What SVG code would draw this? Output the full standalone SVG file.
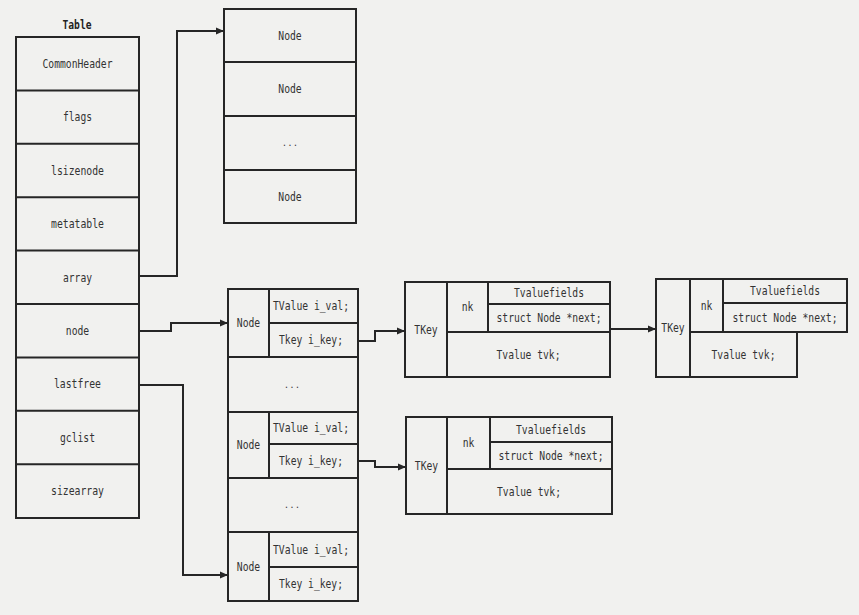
<svg xmlns="http://www.w3.org/2000/svg" width="859" height="615" viewBox="0 0 859 615">
<style>
.b{fill:none;stroke:#262626;stroke-width:2}
.t{font-family:"DejaVu Sans Mono","Liberation Mono",monospace;font-size:11.5px;fill:#333;text-anchor:middle;dominant-baseline:central}
.d{font-family:"DejaVu Sans Mono","Liberation Mono",monospace;font-size:9px;fill:#444;text-anchor:middle;dominant-baseline:central}
.c{fill:none;stroke:#262626;stroke-width:2}
</style>
<defs>
<marker id="ah" markerWidth="8" markerHeight="8" refX="7" refY="4" orient="auto" markerUnits="userSpaceOnUse">
<path d="M0,0.5 L8,4 L0,7.5 Z" fill="#262626"/>
</marker>
</defs>
<rect width="859" height="615" fill="#f1f1ef"/>

<g id="table">
<text x="77" y="25" class="t" style="font-weight:bold;fill:#222" textLength="29" lengthAdjust="spacingAndGlyphs">Table</text>
<rect x="16" y="37" width="123" height="481" class="b"/>
<path class="b" d="M16,90.4H139M16,143.8H139M16,197.2H139M16,250.6H139M16,304H139M16,357.4H139M16,410.8H139M16,464.2H139"/>
<text x="77.5" y="64" class="t" textLength="70" lengthAdjust="spacingAndGlyphs">CommonHeader</text>
<text x="77.5" y="117" class="t" textLength="29" lengthAdjust="spacingAndGlyphs">flags</text>
<text x="77.5" y="170.5" class="t" textLength="53" lengthAdjust="spacingAndGlyphs">lsizenode</text>
<text x="77.5" y="224" class="t" textLength="53" lengthAdjust="spacingAndGlyphs">metatable</text>
<text x="77.5" y="277.5" class="t" textLength="29" lengthAdjust="spacingAndGlyphs">array</text>
<text x="77.5" y="331" class="t" textLength="23.4" lengthAdjust="spacingAndGlyphs">node</text>
<text x="77.5" y="384" class="t" textLength="47" lengthAdjust="spacingAndGlyphs">lastfree</text>
<text x="77.5" y="437.5" class="t" textLength="35" lengthAdjust="spacingAndGlyphs">gclist</text>
<text x="77.5" y="491" class="t" textLength="53" lengthAdjust="spacingAndGlyphs">sizearray</text>
</g>

<g id="array-nodes">
<rect x="224" y="9" width="132" height="214" class="b"/>
<path class="b" d="M224,62H356M224,116H356M224,170H356"/>
<text x="290" y="36" class="t" textLength="23.4" lengthAdjust="spacingAndGlyphs">Node</text>
<text x="290" y="89" class="t" textLength="23.4" lengthAdjust="spacingAndGlyphs">Node</text>
<text x="290" y="143" class="d">...</text>
<text x="290" y="196.5" class="t" textLength="23.4" lengthAdjust="spacingAndGlyphs">Node</text>
</g>

<g id="hash-nodes">
<rect x="228" y="289" width="130" height="312" class="b"/>
<path class="b" d="M228,357H358M228,412H358M228,478H358M228,532H358"/>
<path class="b" d="M269,289V357M269,323H358M269,412V478M269,444H358M269,532V601M269,567H358"/>
<text x="248.5" y="323" class="t" textLength="23.4" lengthAdjust="spacingAndGlyphs">Node</text>
<text x="311" y="306" class="t" textLength="76" lengthAdjust="spacingAndGlyphs">TValue i_val;</text>
<text x="311" y="340" class="t" textLength="64" lengthAdjust="spacingAndGlyphs">Tkey i_key;</text>
<text x="292" y="384.5" class="d">...</text>
<text x="248.5" y="445" class="t" textLength="23.4" lengthAdjust="spacingAndGlyphs">Node</text>
<text x="311" y="428" class="t" textLength="76" lengthAdjust="spacingAndGlyphs">TValue i_val;</text>
<text x="311" y="461" class="t" textLength="64" lengthAdjust="spacingAndGlyphs">Tkey i_key;</text>
<text x="292" y="505" class="d">...</text>
<text x="248.5" y="566.5" class="t" textLength="23.4" lengthAdjust="spacingAndGlyphs">Node</text>
<text x="311" y="549.5" class="t" textLength="76" lengthAdjust="spacingAndGlyphs">TValue i_val;</text>
<text x="311" y="584" class="t" textLength="64" lengthAdjust="spacingAndGlyphs">Tkey i_key;</text>
</g>

<g id="tkey1">
<rect x="405" y="282" width="205" height="95" class="b"/>
<path class="b" d="M447,282V377M488,282V332M447,332H610M488,304H610"/>
<text x="426" y="330" class="t" textLength="23.4" lengthAdjust="spacingAndGlyphs">TKey</text>
<text x="467.5" y="307" class="t" textLength="11.7" lengthAdjust="spacingAndGlyphs">nk</text>
<text x="549" y="293" class="t" textLength="70" lengthAdjust="spacingAndGlyphs">Tvaluefields</text>
<text x="549" y="318" class="t" textLength="105" lengthAdjust="spacingAndGlyphs">struct Node *next;</text>
<text x="528.5" y="354.5" class="t" textLength="64" lengthAdjust="spacingAndGlyphs">Tvalue tvk;</text>
</g>

<g id="tkey2">
<path class="b" d="M656,279H847V332H797V377H656Z"/>
<path class="b" d="M690,279V377M723,279V332M690,332H797M723,303H847"/>
<text x="673" y="328" class="t" textLength="23.4" lengthAdjust="spacingAndGlyphs">TKey</text>
<text x="706.5" y="305.5" class="t" textLength="11.7" lengthAdjust="spacingAndGlyphs">nk</text>
<text x="785" y="291" class="t" textLength="70" lengthAdjust="spacingAndGlyphs">Tvaluefields</text>
<text x="785" y="317.5" class="t" textLength="105" lengthAdjust="spacingAndGlyphs">struct Node *next;</text>
<text x="743.5" y="354.5" class="t" textLength="64" lengthAdjust="spacingAndGlyphs">Tvalue tvk;</text>
</g>

<g id="tkey3">
<rect x="406" y="417" width="206" height="97" class="b"/>
<path class="b" d="M447,417V514M490,417V469M447,469H612M490,442H612"/>
<text x="426.5" y="466" class="t" textLength="23.4" lengthAdjust="spacingAndGlyphs">TKey</text>
<text x="468.5" y="443" class="t" textLength="11.7" lengthAdjust="spacingAndGlyphs">nk</text>
<text x="551" y="429.5" class="t" textLength="70" lengthAdjust="spacingAndGlyphs">Tvaluefields</text>
<text x="551" y="455.5" class="t" textLength="105" lengthAdjust="spacingAndGlyphs">struct Node *next;</text>
<text x="529" y="491.5" class="t" textLength="64" lengthAdjust="spacingAndGlyphs">Tvalue tvk;</text>
</g>

<g id="connectors">
<path class="c" d="M139,276H177V31H223" marker-end="url(#ah)"/>
<path class="c" d="M139,331H171V323H227" marker-end="url(#ah)"/>
<path class="c" d="M139,385H183V575H227" marker-end="url(#ah)"/>
<path class="c" d="M358,341H375V331H404" marker-end="url(#ah)"/>
<path class="c" d="M610,329H655" marker-end="url(#ah)"/>
<path class="c" d="M358,461H375V467H405" marker-end="url(#ah)"/>
</g>
</svg>
